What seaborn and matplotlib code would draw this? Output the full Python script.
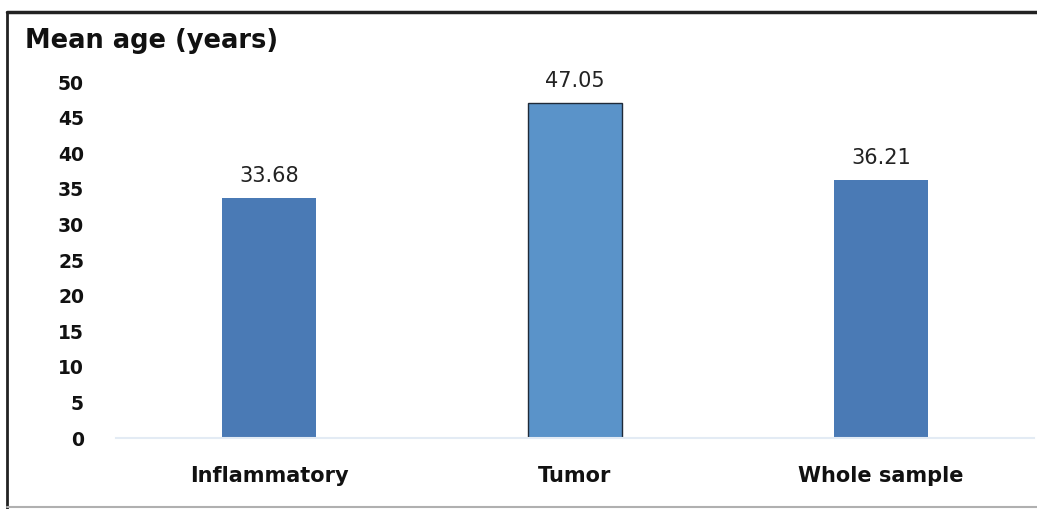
import matplotlib
matplotlib.use("Agg")
import matplotlib.pyplot as plt
import seaborn as sns
import pandas as pd
from matplotlib.lines import Line2D

categories = ["Inflammatory", "Tumor", "Whole sample"]
values = [33.68, 47.05, 36.21]
value_labels = ["33.68", "47.05", "36.21"]
yticks = [0, 5, 10, 15, 20, 25, 30, 35, 40, 45, 50]
title = "Mean age (years)"

sns.set_theme(style="white")
plt.rcParams['font.family'] = ['DejaVu Sans']

W, H = 1037, 509
fig = plt.figure(figsize=(W / 100, H / 100), dpi=100)
fig.patch.set_facecolor("white")

# axes in pixel coordinates
left_px, right_px, top_px, bottom_px = 116, 1034, 82, 438
ax = fig.add_axes([left_px / W, (H - bottom_px) / H,
                   (right_px - left_px) / W, (bottom_px - top_px) / H])

df = pd.DataFrame({"cat": categories, "val": values})
colors = ["#4a7ab5", "#5a93c9", "#4a7ab5"]
sns.barplot(data=df, x="cat", y="val", hue="cat", palette=colors,
            width=0.31, ax=ax, legend=False, saturation=1)

for i, p in enumerate(ax.patches):
    if i == 1:
        p.set_edgecolor("#1f2a38")
        p.set_linewidth(1.0)
    else:
        p.set_edgecolor("none")

for p, lab in zip(ax.patches, value_labels):
    ax.annotate(lab, (p.get_x() + p.get_width() / 2, p.get_height()),
                xytext=(0, 9), textcoords="offset points",
                ha="center", va="bottom", fontsize=15, color="#222222")

ax.set_xlim(-0.5, 2.5)
ax.set_ylim(0, 50)
ax.set_yticks(yticks)
ax.set_yticklabels([str(t) for t in yticks], fontsize=13.5,
                   fontweight="bold", color="#111111")
ax.tick_params(axis="y", length=0, pad=23)
ax.tick_params(axis="x", length=0, pad=20)
ax.set_xticks(range(len(categories)))
ax.set_xticklabels(categories, fontsize=15, fontweight="bold",
                   color="#111111")
ax.set_xlabel("")
ax.set_ylabel("")
for s in ["top", "right", "left"]:
    ax.spines[s].set_visible(False)
ax.spines["bottom"].set_color("#e3ebf4")
ax.spines["bottom"].set_linewidth(1.5)
ax.set_facecolor("none")

fig.text(25 / W, 1 - 48 / H, title, fontsize=18.5, fontweight="bold",
         ha="left", va="baseline", color="#111111")

# outer frame: dark left and top, light bottom
fig.lines.append(Line2D([7 / W, 7 / W], [0, 1 - 12 / H], transform=fig.transFigure,
                        color="#222222", linewidth=2.0))
fig.lines.append(Line2D([7 / W, 1], [1 - 12 / H, 1 - 12 / H], transform=fig.transFigure,
                        color="#222222", linewidth=2.5))
fig.lines.append(Line2D([7 / W, 1], [2 / H, 2 / H], transform=fig.transFigure,
                        color="#b0b0b0", linewidth=1.5))

fig.savefig("out.png", dpi=100)
